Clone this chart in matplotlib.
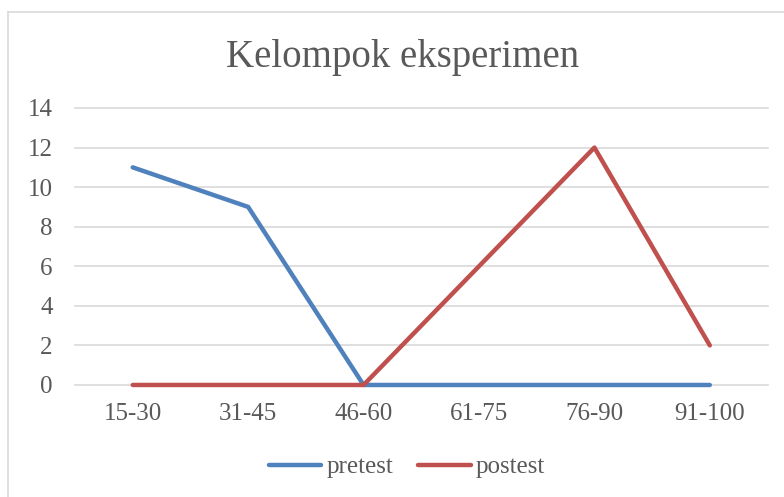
import matplotlib.pyplot as plt
from matplotlib.lines import Line2D

categories = ['15-30', '31-45', '46-60', '61-75', '76-90', '91-100']
pretest = [11, 9, 0, 0, 0, 0]
postest = [0, 0, 0, 6, 12, 2]
yticks = [0, 2, 4, 6, 8, 10, 12, 14]

txt = '#595959'
plt.rcParams['font.family'] = ['Liberation Serif', 'DejaVu Serif']

fig = plt.figure(figsize=(7.84, 4.97), dpi=100)
ax = fig.add_axes([0.0957, 0.2254, 0.8833, 0.5573])

x = list(range(len(categories)))
ax.plot(x, pretest, color='#4F81BD', lw=3.2, solid_capstyle='round', solid_joinstyle='round',
        zorder=3, clip_on=False)
ax.plot(x, postest, color='#C0504D', lw=3.2, solid_capstyle='round', solid_joinstyle='round',
        zorder=4, clip_on=False)

ax.set_xlim(-0.5, 5.5)
ax.set_ylim(0, 14)
ax.set_yticks(yticks)
ax.set_xticks(x)
ax.set_xticklabels(categories)
ax.grid(axis='y', color='#D9D9D9', lw=1.2, clip_on=False)
ax.set_axisbelow(True)
for s in ax.spines.values():
    s.set_visible(False)
ax.tick_params(axis='both', length=0, labelsize=18, colors=txt)
ax.tick_params(axis='y', pad=16)
ax.tick_params(axis='x', pad=13)

fig.text(0.513, 0.885, 'Kelompok eksperimen', ha='center', va='center', fontsize=28, color=txt)

# chart border (extends past right/bottom edges)
fig.add_artist(Line2D([0.0102, 0.0102], [0.976, -0.1], transform=fig.transFigure, color='#D9D9D9', lw=1.2))
fig.add_artist(Line2D([0.0102, 1.1], [0.976, 0.976], transform=fig.transFigure, color='#D9D9D9', lw=1.2))

handles = [Line2D([], [], color='#4F81BD', lw=3.2, solid_capstyle='round'),
           Line2D([], [], color='#C0504D', lw=3.2, solid_capstyle='round')]
leg = fig.legend(handles, ['pretest', 'postest'], loc='center', bbox_to_anchor=(0.519, 0.06),
                 ncol=2, frameon=False, fontsize=18, handlelength=2.1, handletextpad=0.2,
                 columnspacing=1.0)
for t in leg.get_texts():
    t.set_color(txt)

fig.savefig('out.png', dpi=100)
